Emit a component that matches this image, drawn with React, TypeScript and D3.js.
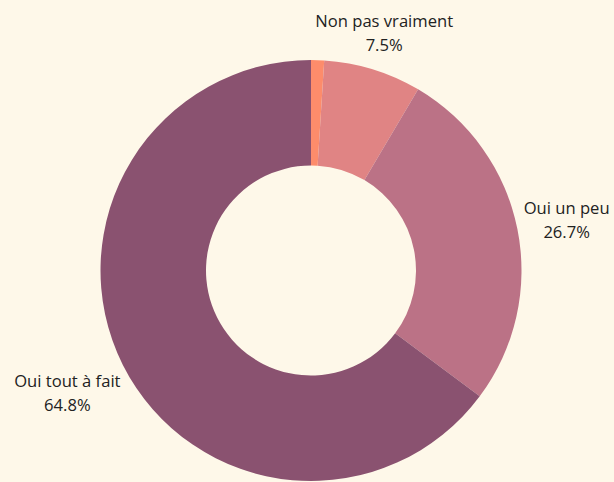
import React, { useEffect, useRef } from "react";
import * as d3 from "d3";

const categories = ["Pas du tout", "Non pas vraiment", "Oui un peu", "Oui tout à fait"];
const values = [1.0, 7.5, 26.7, 64.8];
const colors = ["#fd8c6b", "#e08484", "#bb7286", "#8a5270"];

const W = 614;
const H = 482;
const BG = "#fef8e9";

export default function App() {
  const ref = useRef<SVGSVGElement>(null);

  useEffect(() => {
    const svg = d3.select(ref.current);
    svg.selectAll("*").remove();
    const cx = 311;
    const cy = 270.5;
    const R = 210.5;
    const r0 = 105;

    svg.append("rect").attr("width", W).attr("height", H).attr("fill", BG);

    const data = categories.map((c, i) => ({ name: c, value: values[i], color: colors[i] }));
    const pie = d3.pie<any>().value((d) => d.value).sort(null);
    const arcs = pie(data);
    const arc = d3.arc<any>().innerRadius(r0).outerRadius(R);

    const g = svg.append("g").attr("transform", `translate(${cx},${cy})`);
    g.selectAll("path")
      .data(arcs)
      .join("path")
      .attr("d", arc as any)
      .attr("fill", (d: any) => d.data.color);

    const gap = 4;
    arcs.forEach((a: any) => {
      if (a.data.value < 2) return;
      const mid = (a.startAngle + a.endAngle) / 2;
      const sx = Math.sin(mid);
      const sy = -Math.cos(mid);
      const lg = g.append("g");
      const t = lg
        .append("text")
        .attr("text-anchor", "middle")
        .attr("font-family", "'Open Sans', sans-serif")
        .attr("font-size", 16.6)
        .attr("fill", "#222");
      t.append("tspan").attr("x", 0).attr("dy", 0).text(a.data.name);
      t.append("tspan").attr("x", 0).attr("dy", 24).text(`${a.data.value.toFixed(1)}%`);
      const bb = (t.node() as SVGTextElement).getBBox();
      const bcx = bb.x + bb.width / 2;
      const bcy = bb.y + bb.height / 2;
      const hw = bb.width / 2;
      const hh = bb.height / 2;
      const nearest = (d: number) => {
        const px = sx * d;
        const py = sy * d;
        const nx = Math.max(px - hw, Math.min(0, px + hw));
        const ny = Math.max(py - hh, Math.min(0, py + hh));
        return Math.hypot(nx, ny);
      };
      let lo = 0;
      let hi = 600;
      for (let k = 0; k < 60; k++) {
        const m = (lo + hi) / 2;
        if (nearest(m) < R + gap) lo = m;
        else hi = m;
      }
      const d = hi;
      lg.attr("transform", `translate(${sx * d - bcx},${sy * d - bcy})`);
    });
  }, []);

  return (
    <svg
      ref={ref}
      width={W}
      height={H}
      style={{ position: "absolute", left: 0, top: 0, display: "block" }}
    />
  );
}
